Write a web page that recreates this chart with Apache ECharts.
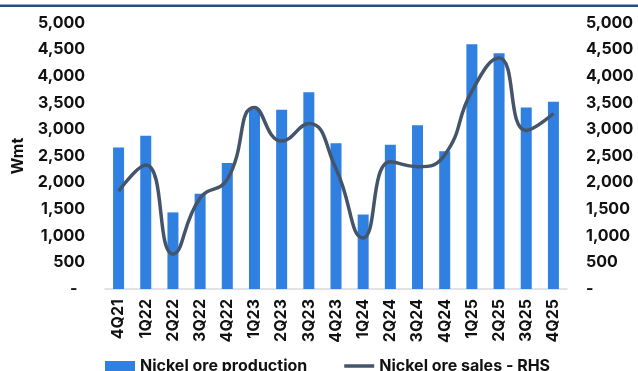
<!DOCTYPE html>
<html>
<head>
<meta charset="utf-8">
<script src="https://cdn.jsdelivr.net/npm/echarts@6/dist/echarts.min.js"></script>
<style>
html,body{margin:0;padding:0;background:#fff;}
#c{width:638px;height:371px;}
</style>
</head>
<body>
<div id="c"></div>
<script>
const categories = ['4Q21','1Q22','2Q22','3Q22','4Q22','1Q23','2Q23','3Q23','4Q23','1Q24','2Q24','3Q24','4Q24','1Q25','2Q25','3Q25','4Q25'];
const production = [2660, 2880, 1440, 1790, 2370, 3380, 3370, 3700, 2740, 1400, 2710, 3080, 2590, 4600, 4430, 3410, 3520];
const sales = [1840, 2330, 660, 1710, 2060, 3410, 2780, 3110, 2260, 960, 2390, 2300, 2520, 3720, 4340, 2980, 3300];
const axisTicks = [0, 500, 1000, 1500, 2000, 2500, 3000, 3500, 4000, 4500, 5000];

const FONT = 'Inter';
const fmt = v => v === 0 ? '-' : v.toLocaleString('en-US');

const chart = echarts.init(document.getElementById('c'), null, {renderer: 'canvas'});
chart.setOption({
  animation: false,
  backgroundColor: '#ffffff',
  textStyle: {fontFamily: FONT},
  graphic: [{
    type: 'rect', z: 100, shape: {x: 0, y: 4.5, width: 638, height: 2.5},
    style: {fill: '#1F4E8C'}
  }],
  grid: {left: 105, right: 71, top: 23, bottom: 82},
  legend: {
    left: 100, top: 353,
    itemWidth: 30, itemHeight: 10, itemGap: 37,
    textStyle: {fontFamily: FONT, fontWeight: 'bold', fontSize: 16, color: '#111'},
    data: [
      {name: 'Nickel ore production', icon: 'rect'},
      {name: 'Nickel ore sales - RHS', icon: 'path://M0,0h30v3.5h-30z'}
    ]
  },
  xAxis: {
    type: 'category', data: categories,
    axisLine: {lineStyle: {color: '#D9D9D9', width: 1.5}},
    axisTick: {show: false},
    axisLabel: {rotate: 90, margin: 10, interval: 0, fontFamily: FONT, fontWeight: 'bold', fontSize: 16, color: '#111'}
  },
  yAxis: [{
    type: 'value', min: axisTicks[0], max: axisTicks[axisTicks.length-1], interval: 500,
    name: 'Wmt', nameLocation: 'middle', nameGap: 78, nameRotate: 90,
    nameTextStyle: {fontFamily: FONT, fontWeight: 'bold', fontSize: 16, color: '#111'},
    splitLine: {show: false}, axisLine: {show: false}, axisTick: {show: false},
    axisLabel: {margin: 20, fontFamily: FONT, fontWeight: 'bold', fontSize: 16, color: '#111',
      formatter: v => v === 0 ? '-  ' : fmt(v)}
  }, {
    type: 'value', min: axisTicks[0], max: axisTicks[axisTicks.length-1], interval: 500,
    splitLine: {show: false}, axisLine: {show: false}, axisTick: {show: false},
    axisLabel: {margin: 19, fontFamily: FONT, fontWeight: 'bold', fontSize: 16, color: '#111', formatter: fmt}
  }],
  series: [{
    name: 'Nickel ore production', type: 'bar', data: production, yAxisIndex: 0,
    barWidth: 11, itemStyle: {color: '#2F80E0'}
  }, {
    name: 'Nickel ore sales - RHS', type: 'line', data: sales, yAxisIndex: 1,
    smooth: 0.5, symbol: 'none', lineStyle: {color: '#44546A', width: 3.5},
    itemStyle: {color: '#44546A'}
  }]
});
</script>
</body>
</html>
